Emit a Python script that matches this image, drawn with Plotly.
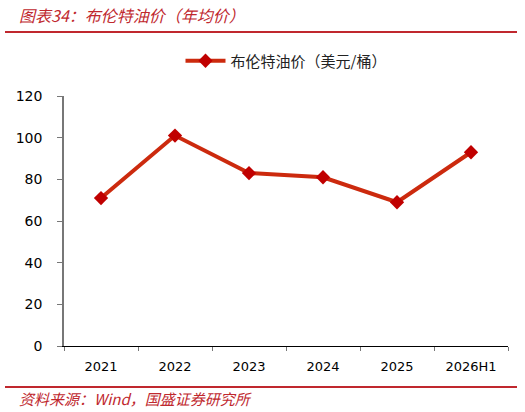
import plotly.graph_objects as go

categories = ["2021", "2022", "2023", "2024", "2025", "2026H1"]
brent_avg = [71, 101, 83, 81, 69, 93]
y_ticks = [0, 20, 40, 60, 80, 100, 120]

fig = go.Figure()
fig.add_trace(go.Scatter(
    x=categories, y=brent_avg, mode="lines+markers",
    name="布伦特油价（美元/桶）",
    line=dict(color="#CC2A0E", width=4),
    marker=dict(symbol="diamond", size=11, color="#C00000"),
))

fig.update_layout(
    width=525, height=412,
    margin=dict(l=64, r=17, t=96, b=66),
    paper_bgcolor="white", plot_bgcolor="white",
    font=dict(family="DejaVu Sans, Noto Sans CJK SC", size=13, color="#000000"),
    showlegend=True,
    legend=dict(orientation="h", x=0.5, xanchor="center", y=(346-61)/250, yanchor="middle",
                itemwidth=40,
                font=dict(family="Noto Sans CJK SC", size=15, color="#222222")),
    xaxis=dict(type="category", range=[-0.5, 5.5], tickson="boundaries",
               ticks="outside", ticklen=4, tickcolor="#777777",
               showline=True, linecolor="#000000", linewidth=1,
               showgrid=False, tickfont=dict(size=13), ticklabelstandoff=8),
    yaxis=dict(range=[0, 120], tickvals=y_ticks, ticks="outside", ticklen=5,
               tickcolor="#777777", showline=True, linecolor="#777777", linewidth=1.5,
               showgrid=False, zeroline=False, tickfont=dict(size=14),
               ticklabelstandoff=12),
)

# header and footer rules
fig.add_shape(type="line", xref="paper", yref="paper",
              x0=-59/444, x1=(517-64)/444, y0=(346-32)/250, y1=(346-32)/250,
              line=dict(color="#C0282E", width=2))
fig.add_shape(type="line", xref="paper", yref="paper",
              x0=-59/444, x1=(517-64)/444, y0=-(387-346)/250, y1=-(387-346)/250,
              line=dict(color="#C0282E", width=2))

fig.add_annotation(xref="paper", yref="paper", x=-47/444, y=(346-15)/250,
                   xanchor="left", yanchor="middle", showarrow=False,
                   text="<i>图表34：布伦特油价（年均价）</i>",
                   font=dict(family="Noto Sans CJK SC", size=16, color="#C0282E"))
fig.add_annotation(xref="paper", yref="paper", x=-47/444, y=-(398-346)/250,
                   xanchor="left", yanchor="middle", showarrow=False,
                   text="<i>资料来源：Wind，国盛证券研究所</i>",
                   font=dict(family="Noto Sans CJK SC", size=15, color="#C0282E"))

fig.write_html("out.html")
